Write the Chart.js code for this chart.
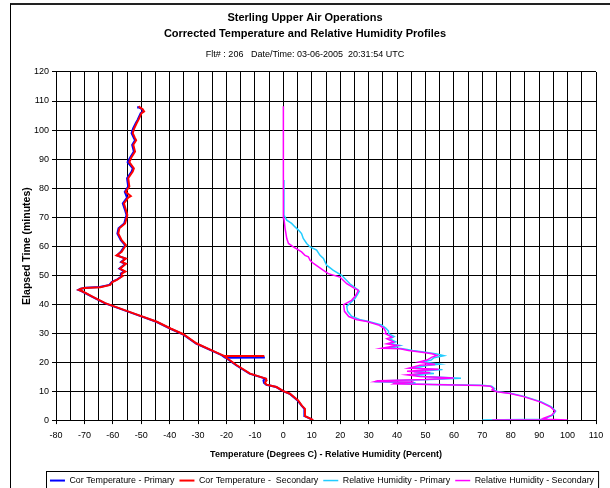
<!DOCTYPE html>
<html>
<head>
<meta charset="utf-8">
<script src="https://cdn.jsdelivr.net/npm/chart.js@4"></script>
<style>
  html, body { margin: 0; padding: 0; overflow: hidden; background: #fff; }
  #wrap { position: relative; width: 610px; height: 500px; }
  #frame { position: absolute; left: 10px; top: 3px; width: 640px; height: 520px;
           border-left: 1px solid #000; border-top: 2px solid #222; pointer-events: none; }
</style>
</head>
<body>
<div id="wrap">
  <canvas id="profile_chart" width="610" height="500"></canvas>
  <div id="frame"></div>
</div>
<script>
// [elapsed minutes, value]
const tempPrimary = [
  [0, 10.4], [0.5, 9.4], [1.4, 7.5], [3.9, 7.4], [5, 6.4], [6.8, 5.0], [9.1, 2.2], [10, -0.1],
  [11.4, -2.5], [12.2, -6.0], [12.8, -6.8], [13.7, -7.0], [14.3, -6.3], [16, -11.9], [18.9, -16.6],
  [21.5, -20.3], [21.6, -6.5], [21.6, -20.6], [22.4, -21.7], [23.8, -24.8], [26.4, -30.7],
  [29.6, -35.4], [31.5, -39.7], [33.9, -44.7], [36.8, -52.9], [40.3, -62.9], [42.5, -67.2],
  [44.5, -71.1], [44.9, -72.1], [45.3, -71.3], [45.6, -69.5], [45.9, -64.6], [46.6, -61.2],
  [47.6, -60.4], [48.3, -58.8], [49.5, -57.0], [50.5, -57.2], [51.2, -55.9], [52.2, -57.7],
  [53.9, -55.6], [54.5, -57.1], [55.7, -55.6], [56.8, -58.5], [58.0, -57.2], [60.3, -55.7],
  [62.0, -57.2], [64.3, -58.4], [66.1, -58.0], [67.8, -56.0], [70.7, -55.2], [72.4, -55.7],
  [74.7, -56.5], [76.7, -55.0], [78.7, -55.8], [80.5, -54.6], [83.4, -55.0], [85.7, -53.4],
  [86.8, -53.0], [88.9, -54.8], [90.5, -53.9], [92.6, -52.6], [94.9, -53.2], [96.5, -52.2],
  [97.2, -52.6], [98.9, -53.4], [100.5, -52.9], [102.4, -51.9], [103.5, -51.3], [105.8, -50.2],
  [106.4, -49.3], [107.2, -49.8], [107.8, -50.8], [108.2, -51.1]
];
const tempSecondary = [
  [0, 10.5], [0.5, 9.5], [1.4, 7.6], [3.9, 7.6], [5, 6.5], [6.8, 5.2], [9.1, 2.3], [10, 0],
  [11.4, -2.4], [12.2, -5.9], [12.8, -6.5], [13.6, -6.0], [14.3, -6.1], [16, -11.7], [18.9, -16.4],
  [21.8, -20.5], [22.1, -20.3], [22.1, -6.7], [22.1, -20.8], [22.4, -21.5], [23.8, -24.6],
  [26.4, -30.5], [29.6, -35.2], [31.5, -39.5], [33.9, -44.5], [36.8, -52.7], [40.3, -62.7],
  [42.5, -67.0], [44.5, -70.9], [44.9, -72.0], [45.3, -71.2], [45.5, -70.0], [45.8, -64.4],
  [46.6, -60.9], [47.6, -60.2], [48.3, -58.6], [49.5, -56.8], [50.5, -56.9], [51.2, -55.6],
  [52.2, -57.5], [53.9, -55.4], [54.5, -56.9], [55.7, -55.4], [56.8, -58.7], [58.0, -56.9],
  [60.3, -55.4], [62.0, -56.9], [64.3, -58.1], [66.1, -57.7], [67.8, -55.7], [70.7, -54.9],
  [72.4, -55.4], [74.7, -56.1], [76.7, -54.6], [77.2, -53.7], [78.7, -55.5], [80.5, -54.2],
  [83.4, -54.6], [85.7, -53.0], [86.8, -52.6], [88.9, -54.2], [90.5, -53.5], [92.6, -52.2],
  [94.9, -52.8], [96.5, -51.8], [97.2, -52.2], [98.9, -53.0], [100.5, -52.5], [102.4, -51.6],
  [103.5, -51.0], [105.8, -49.9], [106.4, -49.0], [107.2, -49.5], [107.8, -50.5], [108.2, -50.9]
];
const rhPrimary = [
  [0, 70], [0.3, 92], [0.7, 92.5], [1.7, 94.8], [3.1, 95.8], [4.6, 94.3], [6.3, 90.8], [8.1, 85],
  [9.2, 80.3], [9.8, 75.6], [10.4, 73.8], [10.9, 74.3], [11.7, 73.3], [12.0, 70], [12.3, 52.5],
  [12.6, 40], [12.9, 46.5], [13.2, 34], [13.6, 36], [14.0, 52], [14.4, 62.5], [15.0, 50],
  [15.6, 45], [16.1, 53], [16.7, 46], [17.4, 56], [17.9, 46], [18.8, 50.5], [19.3, 55], [20.0, 49],
  [20.7, 52], [21.5, 53], [22.2, 56.5], [22.8, 54], [23.4, 50], [24.0, 45.5], [24.6, 42],
  [25.0, 37.5], [25.7, 41], [26.4, 37.5], [27.0, 39.5], [28.0, 37.5], [28.8, 39], [29.8, 37],
  [30.7, 37], [31.7, 36], [32.8, 34.5], [34.0, 30], [34.7, 26.8], [35.8, 24], [37.5, 22.6],
  [39.2, 22.3], [41.9, 25.2], [43.5, 26.2], [44.4, 26.7], [45.1, 26.0], [47.0, 23.4], [49.9, 20.5],
  [51.6, 17.6], [53.4, 15.2], [55.7, 14.1], [56.8, 12.9], [58.6, 11.7], [59.7, 9.4], [60.9, 8.2],
  [62.6, 7.0], [64.3, 6.4], [65.5, 5.3], [66.6, 4.1], [67.8, 2.9], [68.9, 1.2], [70.7, 0.2], [82.8, 0.2]
];
const rhSecondary = [
  [0, 73.5], [0.05, 100], [0.3, 93], [0.6, 91.5], [1.7, 94.4], [3.1, 95.6], [4.6, 93.9], [6.3, 90.3],
  [8.1, 84.5], [9.2, 79.8], [9.8, 75.1], [10.4, 73.4], [10.9, 73.9], [11.7, 72.8], [11.9, 69.3],
  [12.3, 51.7], [12.5, 38.8], [12.7, 39.3], [13.1, 45.8], [13.3, 32.3], [13.6, 33.5], [14.0, 50],
  [14.5, 60], [15.0, 48], [15.6, 43.5], [16.3, 51.7], [16.8, 43.5], [17.5, 54.6], [17.9, 44.1],
  [18.9, 48.1], [19.2, 53.4], [20.0, 47.6], [20.7, 50.5], [21.7, 52.3], [22.3, 54.0], [22.9, 52.3],
  [23.4, 48.8], [24.0, 44], [24.6, 41.1], [24.8, 34.7], [25.7, 40], [26.3, 36.4], [26.9, 38.8],
  [28.1, 36.4], [28.6, 38.2], [29.8, 35.9], [30.5, 36], [31.7, 35.3], [32.8, 33.5], [34.0, 29.4],
  [34.6, 25.9], [35.7, 23.0], [37.5, 21.5], [39.8, 21.2], [41.3, 24.0], [43.0, 25.5], [44.7, 26.4],
  [45.3, 25.2], [47.0, 22.3], [49.3, 19.9], [50.5, 15.8], [51.6, 14.1], [54.0, 10.6], [55.1, 9.4],
  [56.3, 8.8], [56.8, 7.6], [58.0, 6.4], [59.7, 3.5], [60.9, 1.8], [62.6, 1.2], [66.1, 0.6],
  [69.5, 0.2], [75, 0], [108.2, 0]
];
const seriesNames = ['Cor Temperature - Primary', 'Cor Temperature -  Secondary',
  'Relative Humidity - Primary', 'Relative Humidity - Secondary'];
const xTicks = { min: -80, max: 110, grid: 5, label: 10 };
const yTicks = { min: 0, max: 120, step: 10 };

const FONT = 'Liberation Sans, Arial, sans-serif';
const LEGEND_SHIFT = 17;

function toPoints(rows) {
  return rows.map(r => ({ x: r[1], y: r[0] }));
}

// nudges the legend a little right and draws a box round it
const legendBox = {
  id: 'legendBox',
  afterUpdate(chart) {
    const lg = chart.legend;
    lg.left += LEGEND_SHIFT;
    lg.right += LEGEND_SHIFT;
    (lg.legendHitBoxes || []).forEach(b => { b.left += LEGEND_SHIFT; });
  },
  afterDraw(chart) {
    const boxes = chart.legend.legendHitBoxes;
    if (!boxes || !boxes.length) return;
    let left = Infinity, right = -Infinity, top = Infinity;
    boxes.forEach(b => {
      left = Math.min(left, b.left);
      right = Math.max(right, b.left + b.width);
      top = Math.min(top, b.top);
    });
    const ctx = chart.ctx;
    ctx.save();
    ctx.strokeStyle = '#000';
    ctx.lineWidth = 1;
    ctx.strokeRect(Math.round(left - 4) + 0.5, Math.round(top - 5) + 0.5, right - left + 8, 40);
    ctx.restore();
  }
};

window.onload = function () {
  let context = document.querySelector('#profile_chart').getContext('2d');
  new Chart(context, {
    type: 'scatter',
    data: {
      datasets: [{
        label: seriesNames[0],
        data: toPoints(tempPrimary),
        borderColor: '#0000ff',
        backgroundColor: '#0000ff',
        borderWidth: 2,
        order: 4
      }, {
        label: seriesNames[1],
        data: toPoints(tempSecondary),
        borderColor: '#ff0000',
        backgroundColor: '#ff0000',
        borderWidth: 2,
        order: 3
      }, {
        label: seriesNames[2],
        data: toPoints(rhPrimary),
        borderColor: '#22ccff',
        backgroundColor: '#22ccff',
        borderWidth: 1.5,
        order: 2
      }, {
        label: seriesNames[3],
        data: toPoints(rhSecondary),
        borderColor: '#ff00ff',
        backgroundColor: '#ff00ff',
        borderWidth: 1.5,
        order: 1
      }]
    },
    options: {
      responsive: false,
      animation: false,
      showLine: true,
      elements: { point: { radius: 0, hoverRadius: 0 }, line: { tension: 0 } },
      layout: { padding: { left: 14, right: 14, top: 0, bottom: 5 } },
      scales: {
        x: {
          type: 'linear',
          min: xTicks.min,
          max: xTicks.max,
          afterFit: s => { s.height = 51; },
          border: { color: '#000', width: 1 },
          grid: {
            color: '#000',
            lineWidth: 1,
            tickLength: 4,
            tickColor: c => (c.tick && c.tick.value % xTicks.label === 0) ? '#000' : 'rgba(0,0,0,0)'
          },
          ticks: {
            stepSize: xTicks.grid,
            autoSkip: false,
            maxRotation: 0,
            padding: 6,
            color: '#000',
            font: { family: FONT, size: 9 },
            callback: v => (v % xTicks.label === 0 ? v : '')
          },
          title: {
            display: true,
            text: 'Temperature (Degrees C) - Relative Humidity (Percent)',
            color: '#000',
            font: { family: FONT, size: 9, weight: 'bold' },
            padding: { top: 4, bottom: 11 }
          }
        },
        y: {
          type: 'linear',
          min: yTicks.min,
          max: yTicks.max,
          afterFit: s => { s.width = 42; },
          border: { color: '#000', width: 1 },
          grid: { color: '#000', lineWidth: 1, tickLength: 4, tickColor: '#000' },
          ticks: {
            stepSize: yTicks.step,
            padding: 3,
            color: '#000',
            font: { family: FONT, size: 9 }
          },
          title: {
            display: true,
            text: 'Elapsed Time (minutes)',
            color: '#000',
            font: { family: FONT, size: 10.5, weight: 'bold' },
            padding: { top: 7, bottom: 0 }
          }
        }
      },
      plugins: {
        title: {
          display: true,
          text: ['Sterling Upper Air Operations', 'Corrected Temperature and Relative Humidity Profiles'],
          color: '#000',
          font: { family: FONT, size: 11, weight: 'bold', lineHeight: 1.4545 },
          padding: { top: 10, bottom: 7.5 }
        },
        subtitle: {
          display: true,
          text: 'Flt# : 206   Date/Time: 03-06-2005  20:31:54 UTC',
          color: '#000',
          font: { family: FONT, size: 9, lineHeight: 1.2 },
          padding: { top: 0, bottom: 11.7 }
        },
        legend: {
          position: 'bottom',
          labels: {
            usePointStyle: true,
            pointStyle: 'line',
            pointStyleWidth: 15,
            padding: 5,
            color: '#000',
            font: { family: FONT, size: 8.9 },
            sort: (a, b) => a.datasetIndex - b.datasetIndex
          }
        },
        tooltip: { enabled: false }
      }
    },
    plugins: [legendBox]
  });
};
</script>
</body>
</html>
